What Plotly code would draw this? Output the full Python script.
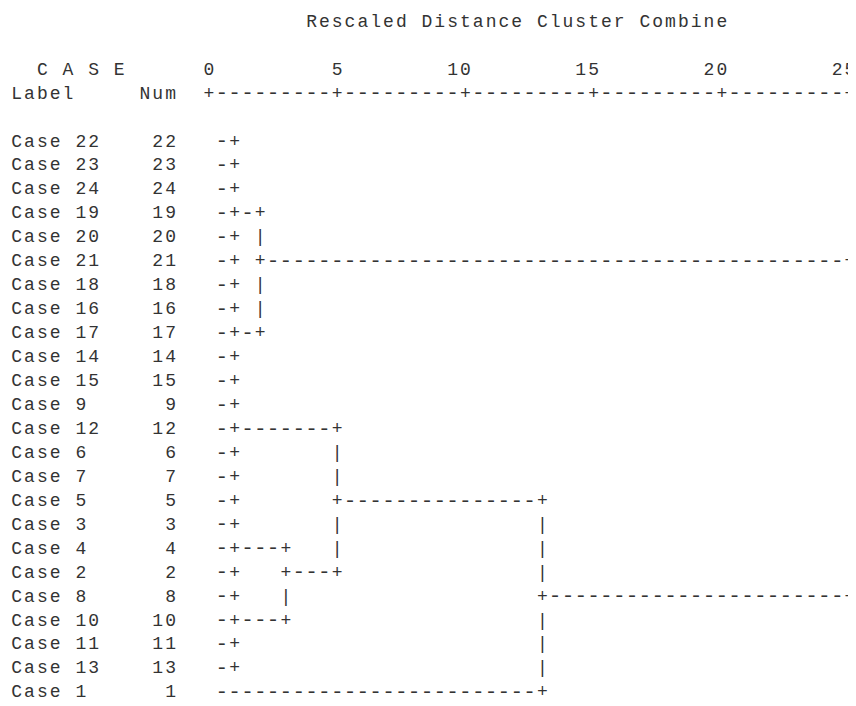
import plotly.graph_objects as go

# ---------------- data ----------------
title_text = "Rescaled Distance Cluster Combine"
header_case = "C A S E"
header_label = "Label"
header_num = "Num"

case_labels = ["Case 22", "Case 23", "Case 24", "Case 19", "Case 20", "Case 21",
               "Case 18", "Case 16", "Case 17", "Case 14", "Case 15", "Case 9",
               "Case 12", "Case 6", "Case 7", "Case 5", "Case 3", "Case 4",
               "Case 2", "Case 8", "Case 10", "Case 11", "Case 13", "Case 1"]
case_nums = [22, 23, 24, 19, 20, 21, 18, 16, 17, 14, 15, 9,
             12, 6, 7, 5, 3, 4, 2, 8, 10, 11, 13, 1]

# agglomeration: members (case numbers or earlier merges "mK") and rescaled distance
merge_children = [
    [22, 23, 24, 19, 20, 21, 18],   # m0
    [16, 17, 14],                   # m1
    [15, 9, 12, 6, 7, 5],           # m2
    [3, 4, 2],                      # m3
    [8, 10, 11, 13],                # m4
    ["m0", "m1"],                   # m5
    ["m3", "m4"],                   # m6
    ["m2", "m6"],                   # m7
    ["m7", 1],                      # m8
    ["m5", "m8"],                   # m9
]
merge_distance = [1, 1, 1, 1, 1, 2, 3, 5, 13, 25]

axis_ticks = [0, 5, 10, 15, 20, 25]

# ---------------- text-grid layout ----------------
COL0 = 15          # column of distance 0
PER_UNIT = 2       # columns per rescaled-distance unit
NUM_END = 12       # right edge column of the Num field
ROW_TITLE, ROW_CASE, ROW_LABEL, ROW_FIRST = 0, 2, 3, 5

grid = {}


def put(r, c, s):
    for i, ch in enumerate(s):
        if ch != " ":
            grid[(r, c + i)] = ch


def dcol(d):
    return COL0 + int(round(PER_UNIT * d))


put(ROW_TITLE, 23, title_text)
put(ROW_CASE, 2, header_case)
put(ROW_LABEL, 0, header_label)
put(ROW_LABEL, NUM_END - len(header_num) + 1, header_num)

tick_cols = [dcol(t) for t in axis_ticks]
for t, c in zip(axis_ticks, tick_cols):
    s = str(t)
    put(ROW_CASE, c - len(s) + 1, s)
for c in range(tick_cols[0], tick_cols[-1] + 1):
    grid[(ROW_LABEL, c)] = "+" if c in tick_cols else "-"

node = {}
for i, (lab, num) in enumerate(zip(case_labels, case_nums)):
    r = ROW_FIRST + i
    put(r, 0, lab)
    s = str(num)
    put(r, NUM_END - len(s) + 1, s)
    node[num] = (r, COL0)

for m, (children, d) in enumerate(zip(merge_children, merge_distance)):
    c = dcol(d)
    rows = []
    for ch in children:
        r, c0 = node[ch]
        for cc in range(c0 + 1, c):
            grid[(r, cc)] = "-"
        rows.append(r)
    top, bot = min(rows), max(rows)
    for rr in range(top, bot + 1):
        grid[(rr, c)] = "+" if rr in rows else "|"
    out = (top + bot) // 2
    if m < len(merge_children) - 1:
        grid[(out, c)] = "+"
    node["m%d" % m] = (out, c)

dash_x, dash_y, dash_t = [], [], []
xs, ys, ts = [], [], []
for (r, c), ch in sorted(grid.items()):
    if ch == "-":
        dash_x.append(c); dash_y.append(r); dash_t.append(ch)
    else:
        xs.append(c); ys.append(r); ts.append(ch)

# ---------------- figure ----------------
CW, LH = 12.82, 23.95         # pixel per column / row
W, H = 848, 698               # page body has an 8px margin
X0 = 209 - 8 - COL0 * CW      # pixel centre of col 0 inside the figure
Y0 = 142 - 8 - ROW_FIRST * LH # pixel centre of row 0 inside the figure
FONT = "Liberation Mono"
INK = "#333333"

fig = go.Figure()
fig.add_trace(go.Scatter(
    x=xs, y=ys, text=ts, mode="text",
    textposition="middle center",
    textfont=dict(family=FONT, size=18, color=INK),
    hoverinfo="skip", cliponaxis=False,
))
fig.add_trace(go.Scatter(
    x=dash_x, y=dash_y, text=dash_t, mode="text",
    textposition="middle center",
    textfont=dict(family=FONT, size=21, color=INK),
    hoverinfo="skip", cliponaxis=False,
))
fig.update_layout(
    width=W, height=H,
    margin=dict(l=0, r=0, t=0, b=0),
    paper_bgcolor="white", plot_bgcolor="white",
    showlegend=False,
    xaxis=dict(visible=False, range=[-X0 / CW, (W - X0) / CW]),
    yaxis=dict(visible=False, range=[(H - Y0) / LH, -Y0 / LH]),
)
fig.write_html("out.html", config={"displayModeBar": False})
